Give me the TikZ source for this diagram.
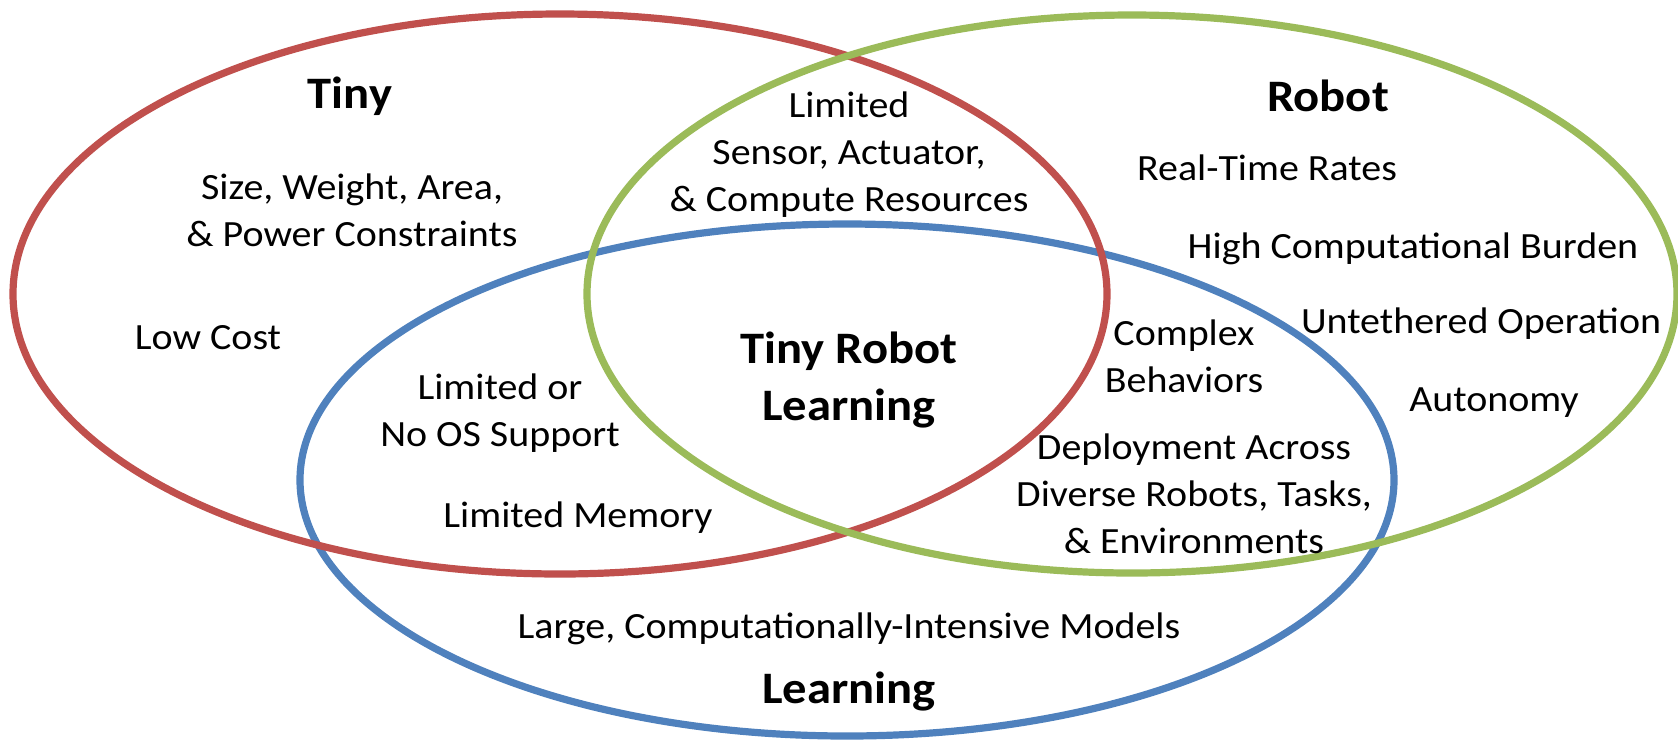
\documentclass[tikz,border=0pt]{standalone}
\usepackage{fontspec}
\setmainfont{Carlito}[FakeStretch=1.08]
\definecolor{setred}{HTML}{C0504D}
\definecolor{setgreen}{HTML}{9BBB59}
\definecolor{setblue}{HTML}{4F81BD}
\begin{document}
\begin{tikzpicture}[x=0.5pt,y=-0.5pt,
  ring/.style={line width=3.6pt},
  txt/.style={font=\fontsize{18.5pt}{23.5pt}\selectfont, align=center, inner sep=0pt},
  ttl/.style={font=\fontsize{22.5pt}{28.5pt}\selectfont\bfseries, align=center, inner sep=0pt}]
\useasboundingbox (0,0) rectangle (1678,741);
% the three sets
\draw[ring, setblue]  (847,480) ellipse [x radius=273.5pt, y radius=128pt];
\draw[ring, setred]   (560,294) ellipse [x radius=273.5pt, y radius=140pt];
\draw[ring, setgreen] (1132,294) ellipse [x radius=272.5pt, y radius=139.5pt];
% Tiny
\node[ttl] (tiny) at (350,96) {Tiny};
\node[txt] (swap) at (352,210) {Size, Weight, Area,\\ \& Power Constraints};
\node[txt] (cost) at (208,338) {Low Cost};
% Tiny and Robot
\node[txt] (res) at (849,155) {Limited\\ Sensor, Actuator,\\ \& Compute Resources};
% Robot
\node[ttl] (robot) at (1328,96) {Robot};
\node[txt] (rate) at (1267,168) {Real-Time Rates};
\node[txt] (burden) at (1413,249) {High Computational Burden};
\node[txt] (untether) at (1481,324) {Untethered Operation};
\node[txt] (auto) at (1494,403) {Autonomy};
% Robot and Learning
\node[txt] (complex) at (1184,356) {Complex\\ Behaviors};
\node[txt] (deploy) at (1194,494) {Deployment Across\\ Diverse Robots, Tasks,\\ \& Environments};
% all three
\node[ttl] (trl) at (849,380) {Tiny Robot\\ Learning};
% Tiny and Learning
\node[txt] (os) at (500,413) {Limited or\\ No OS Support};
\node[txt] (mem) at (578,518) {Limited Memory};
% Learning
\node[txt] (models) at (849,629) {Large, Computationally-Intensive Models};
\node[ttl] (learn) at (849,692) {Learning};
\end{tikzpicture}
\end{document}
